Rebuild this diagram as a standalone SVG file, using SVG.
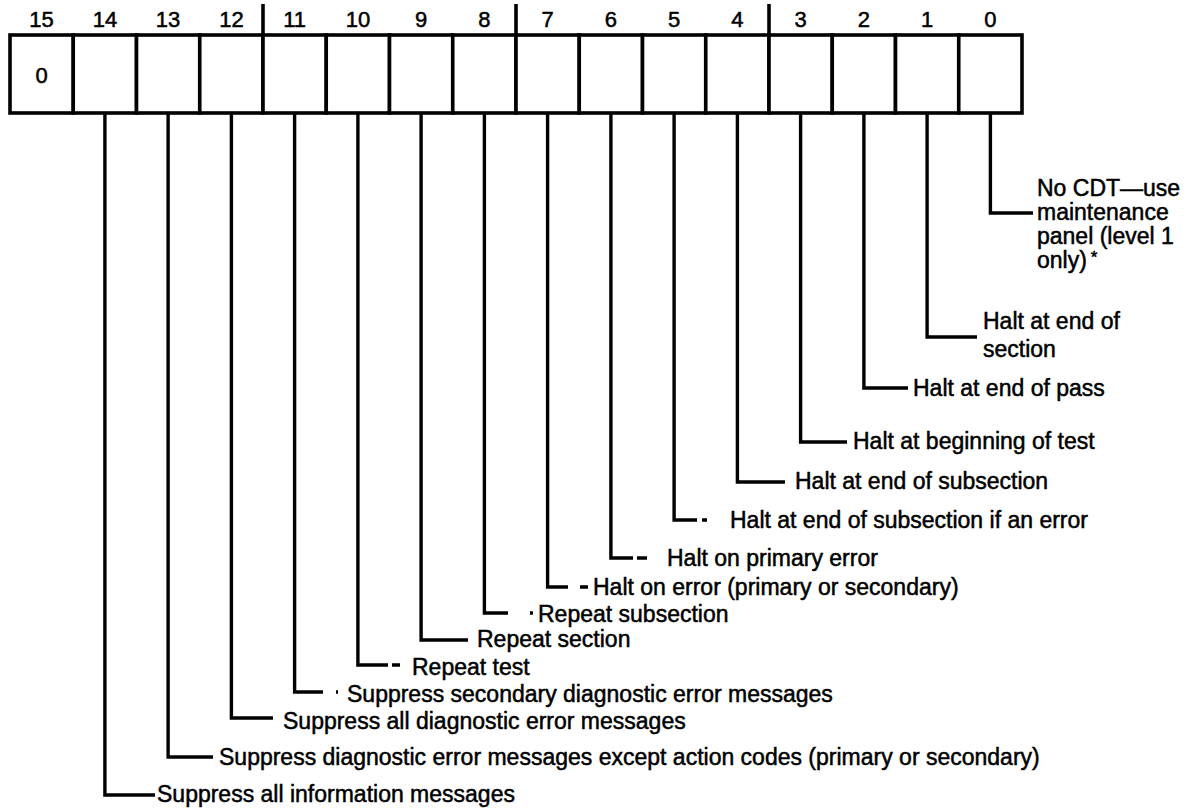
<svg xmlns="http://www.w3.org/2000/svg" width="1186" height="808" viewBox="0 0 1186 808">
<style>
.cell{fill:#fff;stroke:#000;stroke-width:3.6}
.num{font-family:"Liberation Sans",Arial,sans-serif;font-size:22px;fill:#000;stroke:#000;stroke-width:0.5;text-anchor:middle}
.lbl{font-family:"Liberation Sans",Arial,sans-serif;font-size:23px;fill:#000;stroke:#000;stroke-width:0.5}
.con{fill:none;stroke:#000;stroke-width:3.4;stroke-linejoin:miter;stroke-linecap:butt}
.tick{stroke:#000;stroke-width:3.6}
</style>
<rect width="1186" height="808" fill="#fff"/>
<g id="register">
<g id="bit15"><rect class="cell" x="10" y="35" width="63.25" height="78"/><text class="num" x="41.6" y="27">15</text><text class="num" x="41.6" y="83">0</text></g>
<g id="bit14"><rect class="cell" x="73.25" y="35" width="63.25" height="78"/><text class="num" x="104.9" y="27">14</text></g>
<g id="bit13"><rect class="cell" x="136.5" y="35" width="63.25" height="78"/><text class="num" x="168.1" y="27">13</text></g>
<g id="bit12"><rect class="cell" x="199.75" y="35" width="63.25" height="78"/><text class="num" x="231.4" y="27">12</text></g>
<g id="bit11"><rect class="cell" x="263" y="35" width="63.25" height="78"/><text class="num" x="294.6" y="27">11</text></g>
<g id="bit10"><rect class="cell" x="326.25" y="35" width="63.25" height="78"/><text class="num" x="357.9" y="27">10</text></g>
<g id="bit9"><rect class="cell" x="389.5" y="35" width="63.25" height="78"/><text class="num" x="421.1" y="27">9</text></g>
<g id="bit8"><rect class="cell" x="452.75" y="35" width="63.25" height="78"/><text class="num" x="484.4" y="27">8</text></g>
<g id="bit7"><rect class="cell" x="516" y="35" width="63.25" height="78"/><text class="num" x="547.6" y="27">7</text></g>
<g id="bit6"><rect class="cell" x="579.25" y="35" width="63.25" height="78"/><text class="num" x="610.9" y="27">6</text></g>
<g id="bit5"><rect class="cell" x="642.5" y="35" width="63.25" height="78"/><text class="num" x="674.1" y="27">5</text></g>
<g id="bit4"><rect class="cell" x="705.75" y="35" width="63.25" height="78"/><text class="num" x="737.4" y="27">4</text></g>
<g id="bit3"><rect class="cell" x="769" y="35" width="63.25" height="78"/><text class="num" x="800.6" y="27">3</text></g>
<g id="bit2"><rect class="cell" x="832.25" y="35" width="63.25" height="78"/><text class="num" x="863.9" y="27">2</text></g>
<g id="bit1"><rect class="cell" x="895.5" y="35" width="63.25" height="78"/><text class="num" x="927.1" y="27">1</text></g>
<g id="bit0"><rect class="cell" x="958.75" y="35" width="63.25" height="78"/><text class="num" x="990.4" y="27">0</text></g>
<line class="tick" x1="263" y1="4" x2="263" y2="36"/>
<line class="tick" x1="516" y1="4" x2="516" y2="36"/>
<line class="tick" x1="769" y1="4" x2="769" y2="36"/>
</g>
<g id="connectors">
<path class="con" d="M990.4 113V213H1033"/>
<path class="con" d="M927.1 113V337H977"/>
<path class="con" d="M863.9 113V388H908"/>
<path class="con" d="M800.6 113V442H847"/>
<path class="con" d="M737.4 113V482H785"/>
<path class="con" d="M674.1 113V520H697M702 520H707"/>
<path class="con" d="M610.9 113V558H633M637 558H647"/>
<path class="con" d="M547.6 113V587H568M580 587H588"/>
<path class="con" d="M484.4 113V613H508M530 613H533"/>
<path class="con" d="M421.1 113V640H468"/>
<path class="con" d="M357.9 113V665H388M392 665H400"/>
<path class="con" d="M294.6 113V692H323M336 692H338"/>
<path class="con" d="M231.4 113V718H273"/>
<path class="con" d="M168.1 113V757H213"/>
<path class="con" d="M104.9 113V795H155"/>
</g>
<g id="label-bit0"><text class="lbl" x="1037" y="196">No CDT—use</text><text class="lbl" x="1037" y="220">maintenance</text><text class="lbl" x="1037" y="244">panel (level 1</text><text class="lbl" x="1037" y="268">only)<tspan font-size="17" dy="-5" dx="4">*</tspan></text></g>
<g id="label-bit1"><text class="lbl" x="983" y="329">Halt at end of</text><text class="lbl" x="983" y="357">section</text></g>
<g id="label-bit2"><text class="lbl" x="913" y="396">Halt at end of pass</text></g>
<g id="label-bit3"><text class="lbl" x="853" y="449">Halt at beginning of test</text></g>
<g id="label-bit4"><text class="lbl" x="795" y="489">Halt at end of subsection</text></g>
<g id="label-bit5"><text class="lbl" x="730" y="528">Halt at end of subsection if an error</text></g>
<g id="label-bit6"><text class="lbl" x="667" y="566">Halt on primary error</text></g>
<g id="label-bit7"><text class="lbl" x="593" y="595">Halt on error (primary or secondary)</text></g>
<g id="label-bit8"><text class="lbl" x="538" y="622">Repeat subsection</text></g>
<g id="label-bit9"><text class="lbl" x="477" y="647">Repeat section</text></g>
<g id="label-bit10"><text class="lbl" x="412" y="675">Repeat test</text></g>
<g id="label-bit11"><text class="lbl" x="347" y="702">Suppress secondary diagnostic error messages</text></g>
<g id="label-bit12"><text class="lbl" x="283" y="729">Suppress all diagnostic error messages</text></g>
<g id="label-bit13"><text class="lbl" x="219" y="765">Suppress diagnostic error messages except action codes (primary or secondary)</text></g>
<g id="label-bit14"><text class="lbl" x="157" y="802">Suppress all information messages</text></g>
</svg>
